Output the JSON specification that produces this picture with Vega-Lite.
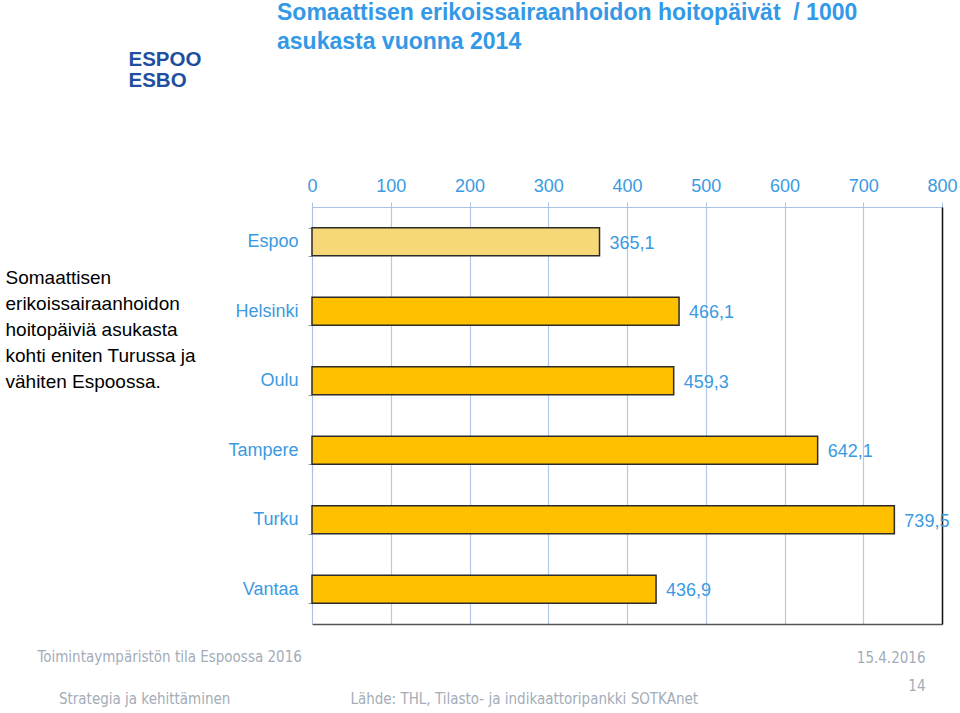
{
  "$schema": "https://vega.github.io/schema/vega-lite/v6.json",
  "width": 630,
  "height": 417,
  "autosize": {"type": "none"},
  "padding": {"left": 312, "top": 207, "right": 18, "bottom": 89},
  "background": "white",
  "title": {
    "text": ["Somaattisen erikoissairaanhoidon hoitopäivät \u00a0/ 1000", "asukasta vuonna 2014"],
    "anchor": "start",
    "frame": "group",
    "dx": -35,
    "dy": 5,
    "offset": 0,
    "font": "Liberation Sans",
    "fontSize": 23,
    "fontWeight": "bold",
    "color": "#3399e6",
    "lineHeight": 29
  },
  "data": {
    "values": [
      {"city": "Espoo", "value": 365.1, "label": "365,1"},
      {"city": "Helsinki", "value": 466.1, "label": "466,1"},
      {"city": "Oulu", "value": 459.3, "label": "459,3"},
      {"city": "Tampere", "value": 642.1, "label": "642,1"},
      {"city": "Turku", "value": 739.5, "label": "739,5"},
      {"city": "Vantaa", "value": 436.9, "label": "436,9"}
    ]
  },
  "layer": [
    {
      "mark": {"type": "bar", "stroke": "#2b2b2b", "strokeWidth": 1.5},
      "encoding": {
        "y": {
          "field": "city",
          "type": "nominal",
          "sort": null,
          "scale": {"paddingInner": 0.6, "paddingOuter": 0.3},
          "axis": {
            "title": ["Somaattisen", "erikoissairaanhoidon", "hoitopäiviä asukasta", "kohti eniten Turussa ja", "vähiten Espoossa."],
            "titleAngle": 0,
            "titleAlign": "left",
            "titleBaseline": "top",
            "titleX": -307,
            "titleY": 61,
            "titleFont": "Liberation Sans",
            "titleFontSize": 19,
            "titleFontWeight": "normal",
            "titleColor": "#000000",
            "titleLineHeight": 26,
            "labelFont": "Liberation Sans",
            "labelFontSize": 18,
            "labelColor": "#3a9ae2",
            "labelPadding": 10,
            "tickBand": "extent",
            "tickColor": "#999999",
            "tickSize": 4,
            "domainColor": "#a9c2e6",
            "grid": false
          }
        },
        "x": {
          "field": "value",
          "type": "quantitative",
          "scale": {"domain": [0, 800], "nice": false},
          "axis": {
            "orient": "top",
            "values": [0, 100, 200, 300, 400, 500, 600, 700, 800],
            "title": ["ESPOO", "ESBO"],
            "titleX": -184,
            "titleY": -158,
            "titleAlign": "left",
            "titleBaseline": "top",
            "titleAngle": 0,
            "titleFont": "Liberation Sans",
            "titleFontSize": 20.5,
            "titleFontWeight": "bold",
            "titleColor": "#1f4fa0",
            "titleLineHeight": 21,
            "labelFont": "Liberation Sans",
            "labelFontSize": 18,
            "labelColor": "#3a9ae2",
            "labelPadding": 7,
            "labelFlush": false,
            "tickColor": "#a9c2e6",
            "tickSize": 5,
            "domainColor": "#a9c2e6",
            "grid": true,
            "gridColor": "#b3c9ea",
            "gridWidth": 1.2
          }
        },
        "color": {"condition": {"test": "datum.city === 'Espoo'", "value": "#f7d877"}, "value": "#ffc000"}
      }
    },
    {
      "mark": {"type": "text", "align": "left", "baseline": "middle", "dx": 10, "dy": 2, "fontSize": 18, "font": "Liberation Sans", "color": "#3a9ae2"},
      "encoding": {
        "y": {
          "field": "city",
          "type": "nominal",
          "sort": null,
          "axis": {
            "orient": "right",
            "labels": false,
            "ticks": false,
            "grid": false,
            "domainColor": "#111111",
            "domainWidth": 1.5,
            "title": ["15.4.2016", "14"],
            "titleAngle": 0,
            "titleAlign": "right",
            "titleBaseline": "top",
            "titleX": -17,
            "titleY": 443,
            "titleLineHeight": 28,
            "titleFont": "DejaVu Sans Condensed",
            "titleFontSize": 15,
            "titleFontWeight": "normal",
            "titleColor": "#a3acb8"
          }
        },
        "x": {
          "field": "value",
          "type": "quantitative",
          "axis": {
            "orient": "bottom",
            "labels": false,
            "ticks": false,
            "grid": false,
            "domainColor": "#555555",
            "domainWidth": 1.5,
            "title": ["Toimintaympäristön tila Espoossa 2016", "\u200b\u00a0\u00a0\u00a0\u00a0\u00a0Strategia ja kehittäminen\u00a0\u00a0\u00a0\u00a0\u00a0\u00a0\u00a0\u00a0\u00a0\u00a0\u00a0\u00a0\u00a0\u00a0\u00a0\u00a0\u00a0\u00a0\u00a0\u00a0\u00a0\u00a0\u00a0\u00a0\u00a0\u00a0\u00a0\u00a0Lähde: THL, Tilasto- ja indikaattoripankki SOTKAnet"],
            "titleAngle": 0,
            "titleAlign": "left",
            "titleBaseline": "top",
            "titleX": -275,
            "titleY": 25,
            "titleLineHeight": 42,
            "titleFont": "DejaVu Sans Condensed",
            "titleFontSize": 15,
            "titleFontWeight": "normal",
            "titleColor": "#a3acb8"
          }
        },
        "text": {"field": "label"}
      }
    }
  ],
  "resolve": {"axis": {"x": "independent", "y": "independent"}},
  "config": {"view": {"stroke": null}}
}
